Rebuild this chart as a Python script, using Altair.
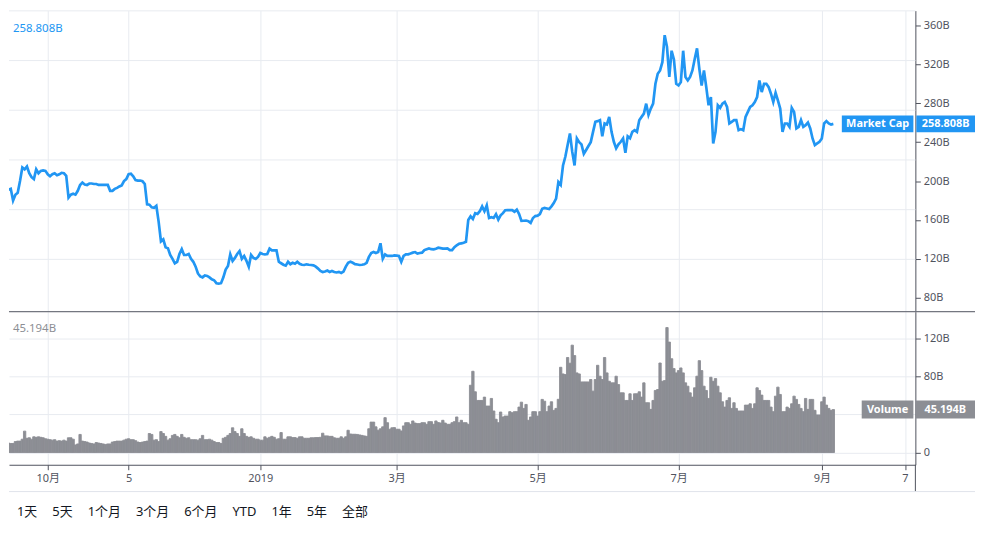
import altair as alt
import pandas as pd

# Day 0 = 2018-09-11, one value per day (billions USD)
market_cap_b = [
    181, 189, 190, 191, 192, 180, 186, 188, 200, 214,
    212, 215, 208, 204, 202, 212, 208, 210.5, 211, 210.5,
    207, 205, 207, 208, 206, 207, 208.5, 208, 205.5, 183,
    186, 187, 186, 190, 196, 198.5, 196.5, 196, 197.5, 197.5,
    197, 197, 196, 196, 196, 196, 196, 190, 190, 192,
    193, 194.5, 195.5, 200, 202, 207, 207.5, 205, 201, 200.5,
    200.5, 199.8, 197, 176, 175.7, 173, 172.5, 174.5, 158, 138,
    140, 132, 131, 124, 120, 115.5, 117, 125, 130, 124,
    124, 125, 120, 117, 112, 105, 102, 101, 103, 102.5,
    101, 99, 98, 95, 94.5, 95, 101, 109, 112.7, 124.7,
    117.8, 121, 125, 128, 120, 123, 118, 112, 124, 121,
    120, 122, 126, 125, 124.5, 125, 130.5, 128.7, 128.7, 128.7,
    117, 115.5, 114, 113, 117, 114.5, 116, 115, 117, 115,
    114, 113.7, 114.4, 114, 113.7, 113.4, 112, 110, 107.6, 106.5,
    107, 108, 106.5, 107.6, 106.5, 106, 106.6, 105.5, 107, 112,
    116, 117, 116, 114.6, 114.2, 113.7, 114, 114.4, 116, 122,
    126, 127, 126, 127, 136, 120, 124.5, 123, 123, 123,
    123.6, 123.3, 123, 117, 123, 124.7, 124.7, 125.5, 126.4, 127,
    125.5, 126, 126.4, 129, 130, 130.8, 130, 129.8, 130.5, 131.5,
    131, 130.5, 130.6, 130.8, 129, 129, 132, 134, 135.5, 136,
    136.5, 137.5, 160, 163.8, 161, 167, 166.2, 169, 174, 169,
    175, 162, 162.8, 162.1, 166, 160.4, 164.8, 167, 170, 170.2,
    170.2, 170.2, 168.5, 170.6, 166, 159, 159.2, 159.4, 158.8, 157,
    162, 164, 164.4, 166, 171.5, 172.3, 171.8, 171.2, 174, 177.4,
    182, 199, 196, 216, 225, 237, 249, 230, 216, 243.8,
    240, 237.7, 228, 232, 236, 240, 250.6, 260.9, 261.6, 262.6,
    246, 259.2, 258.2, 266, 250.6, 240.4, 233.6, 237.7, 240.4, 243.8,
    229, 246, 244, 250.6, 252.3, 250.6, 262.6, 266, 269.4, 279.6,
    268, 274.5, 279.6, 300, 310.3, 313.7, 322.2, 350, 338, 307,
    334, 325, 300, 298.3, 301.7, 334, 307, 303.5, 307, 313.7,
    325.6, 336.4, 315.4, 298.3, 313.7, 296.6, 278, 286.4, 238.7, 250.6,
    278, 275.2, 279.6, 281.3, 276.2, 259.2, 260.9, 262.6, 262.6, 252.3,
    253.4, 252.3, 266, 271.1, 276.2, 278, 281.3, 286.4, 303.5, 291.5,
    300, 300, 296.6, 289.8, 281.3, 290.8, 283, 274.5, 250.6, 259.2,
    259.2, 255.8, 275.2, 271.1, 254.1, 255.8, 262.6, 255.8, 257.5, 260.2,
    254.1, 243.8, 237, 238.7, 240.4, 243.8, 259.2, 261.6, 259.2, 258.2, 258.808,
]

volume_b = [
    13, 13, 12, 10, 9.5, 9.5, 11.5, 12, 12, 14,
    22.5, 15, 15.5, 14, 16.5, 16, 16.5, 16, 15.5, 14.5,
    14, 13.5, 13, 13.5, 12, 12.5, 12, 13, 12, 15.5,
    15.5, 14, 8, 9, 19, 12, 11.5, 11, 10, 9.5,
    9, 10.5, 10, 9.5, 9, 8.5, 9, 9, 11, 11.5,
    12, 12, 12, 13, 14, 14.5, 13.5, 13.5, 12.5, 11,
    10.5, 11, 11.5, 12, 20, 19, 13, 13.5, 11.5, 22,
    20, 17, 13, 14.5, 18, 19, 17, 15.5, 19, 16,
    15, 15.5, 13.5, 13.5, 13.5, 13, 14.5, 18, 13.5, 13.5,
    14, 13, 11.5, 10.5, 10.5, 9.5, 15, 16, 18, 20,
    26, 22, 20, 17, 25, 20, 17, 16, 16.5, 15,
    14, 14, 13, 13, 16.5, 15, 16, 17, 16, 14,
    14.5, 21, 14, 14, 16.5, 16.5, 15.7, 15.7, 15, 16.5,
    16.5, 15, 15, 15, 15.5, 15.5, 15.7, 15.7, 16, 20.3,
    17.5, 17.5, 17, 17, 15.5, 15, 15, 16.5, 15, 16.5,
    23.4, 19.5, 19.2, 19.2, 19, 18.5, 18, 17.5, 17, 25,
    32, 32, 27, 23.5, 25, 27, 36.7, 31.4, 24.5, 26,
    26.2, 24.5, 24.5, 22.7, 28, 31.4, 31.4, 29.7, 33.2, 31,
    30.4, 30.4, 31.4, 31.4, 29.7, 32.5, 32.5, 29.7, 33.2, 31.5,
    31.1, 33.9, 31, 29.7, 29.7, 31.4, 32.5, 37.4, 31.4, 33.9,
    31.4, 31.4, 29.7, 70.8, 85.5, 63.9, 54.8, 54.8, 54.8, 58.3,
    48.9, 48.9, 56.9, 43.7, 35, 31.4, 42.6, 37.4, 38.4, 38.4,
    43, 41.9, 43, 43, 47.8, 53, 46.4, 50.6, 33.9, 37.4,
    43, 43, 38.4, 43, 55.9, 54, 43, 48.9, 53.4, 44.3,
    46.4, 56, 89.7, 82.7, 82, 100, 94, 113, 102, 83.8,
    82.7, 74.3, 74.3, 74.3, 74.3, 76.8, 64.6, 76.8, 91.8, 80.3,
    76.8, 100, 83.8, 75, 73.3, 73.3, 80.3, 71.5, 62.8, 62.8,
    54.8, 54.8, 61.8, 54.8, 61.8, 61.8, 63.9, 58.3, 73.3, 52.4,
    52.4, 45.4, 54.8, 65.3, 66.3, 94.2, 75, 75.7, 131.5, 116.2,
    98.7, 88.3, 83.8, 86.2, 89, 83.8, 73.3, 69.8, 62.8, 58.3,
    68.1, 80.3, 96.7, 86.2, 69.8, 65.3, 56.9, 79.2, 75, 77.8,
    69.8, 62.8, 53.4, 47.8, 54.8, 57.6, 46.4, 52.4, 46.4, 43.7,
    43.7, 43.7, 49.9, 49.9, 51.3, 46.4, 51.3, 68.1, 65.3, 60.4,
    54.8, 54.8, 54.8, 47.8, 43, 59.3, 68.8, 61.1, 43, 43,
    47.8, 46.4, 51.3, 59.3, 55.9, 50.6, 46.4, 43, 56.9, 45.4,
    55.9, 55.9, 44.4, 39.5, 39.5, 53.4, 58.3, 49.9, 46.4, 44.4, 45.194,
]

tick_days = [20, 55, 112, 171, 232, 293, 355, 391]
tick_labels = ["10月", "5", "2019", "3月", "5月", "7月", "9月", "7"]
price_ticks = [80, 120, 160, 200, 240, 280, 320, 360]
price_grid = [119.5, 170.6, 221.7, 272.8, 323.9, 375.0]
volume_ticks = [0, 40, 80, 120]
range_buttons = ["1天", "5天", "1个月", "3个月", "6个月", "YTD", "1年", "5年", "全部"]
cap_name = "Market Cap"
cap_label = "258.808B"
vol_name = "Volume"
vol_label = "45.194B"

n = min(len(market_cap_b), len(volume_b))
df = pd.DataFrame({"day": list(range(n)), "cap": market_cap_b[:n], "vol": volume_b[:n]})
last = pd.DataFrame({
    "cap": [market_cap_b[n - 1]], "vol": [volume_b[n - 1]],
    "cname": [cap_name], "clab": [cap_label], "vname": [vol_name], "vlab": [vol_label],
    "tool": ["\u2003\u2006".join(range_buttons)],
})
grid_df = pd.DataFrame({"g": price_grid})

BLUE = "#2196f3"
GRAY = "#8c8e94"
GRID = "#e8ebf0"
DARK = "#50535e"
TXT = "#50535e"
FONT = "'Noto Sans', 'Noto Sans CJK SC', sans-serif"

W, H1, H2 = 912, 302, 154
xscale = alt.Scale(domain=[3.23, 395.5], nice=False, zero=False)
ytop = alt.Scale(domain=[66.7, 375.3], nice=False, zero=False)
ybot = alt.Scale(domain=[-12.9, 148.2], nice=False, zero=False)

label_expr_x = ("[" + ",".join("'%s'" % s for s in tick_labels) + "][indexof(["
                + ",".join(str(d) for d in tick_days) + "], datum.value)]")

x_top_axis = alt.Axis(values=tick_days, grid=True, gridColor=GRID, labels=False,
                      ticks=False, domain=False, title=None)
y_top_axis = alt.Axis(orient="right", values=price_ticks, labelExpr="datum.value + 'B'",
                      grid=False, title=None, tickSize=5, tickColor=DARK, domainColor=DARK,
                      labelColor=TXT, labelFontSize=11, labelPadding=3, labelFont=FONT)
x_bot_axis = alt.Axis(values=tick_days, labelExpr=label_expr_x, grid=True, gridColor=GRID,
                      tickSize=5, tickColor=DARK, domainColor=DARK, labelColor=TXT,
                      labelFontSize=11, labelFont=FONT, labelPadding=3, title=None,
                      labelFlush=False)
y_bot_axis = alt.Axis(orient="right", values=volume_ticks,
                      labelExpr="datum.value == 0 ? '0' : datum.value + 'B'",
                      grid=True, gridColor=GRID, title=None, tickSize=5, tickColor=DARK,
                      domainColor=DARK, labelColor=TXT, labelFontSize=11, labelPadding=3,
                      labelFont=FONT)

# ---- top pane: market cap ----
grid_rules = alt.Chart(grid_df).mark_rule(color=GRID, strokeWidth=1).encode(
    y=alt.Y("g:Q", scale=ytop, axis=y_top_axis))
line = alt.Chart(df).mark_line(color=BLUE, strokeWidth=2.7, clip=True).encode(
    x=alt.X("day:Q", scale=xscale, axis=x_top_axis),
    y=alt.Y("cap:Q", scale=ytop, axis=y_top_axis))
cap_text = alt.Chart(last).mark_text(align="left", baseline="middle", color=BLUE,
                                     fontSize=11.5, font=FONT).encode(
    x=alt.value(4), y=alt.value(19), text="clab:N")
cap_box = alt.Chart(last).mark_rect(color=BLUE, height=17).encode(
    x=alt.value(838), x2=alt.value(910), y=alt.Y("cap:Q", scale=ytop, axis=y_top_axis))
cap_vbox = alt.Chart(last).mark_rect(color=BLUE, height=17).encode(
    x=alt.value(913), x2=alt.value(972), y=alt.Y("cap:Q", scale=ytop, axis=y_top_axis))
cap_name_t = alt.Chart(last).mark_text(color="white", fontSize=11, fontWeight="bold",
                                       font=FONT, align="center", baseline="middle").encode(
    x=alt.value(874), y=alt.Y("cap:Q", scale=ytop, axis=y_top_axis), text="cname:N")
cap_val_t = alt.Chart(last).mark_text(color="white", fontSize=11, fontWeight="bold",
                                      font=FONT, align="center", baseline="middle").encode(
    x=alt.value(942.5), y=alt.Y("cap:Q", scale=ytop, axis=y_top_axis), text="clab:N")

top = alt.layer(grid_rules, line, cap_text, cap_box, cap_vbox, cap_name_t, cap_val_t).properties(
    width=W, height=H1)

# ---- bottom pane: volume ----
bars = alt.Chart(df).transform_calculate(
    x0="datum.day - 0.5", x1="datum.day + 0.5"
).mark_rect(color=GRAY, clip=True, stroke=GRAY, strokeWidth=0.9).encode(
    x=alt.X("x0:Q", scale=xscale, axis=x_bot_axis), x2="x1:Q",
    y=alt.Y("vol:Q", scale=ybot, axis=y_bot_axis), y2=alt.datum(0))
vol_text = alt.Chart(last).mark_text(align="left", baseline="middle", color=GRAY,
                                     fontSize=11.5, font=FONT).encode(
    x=alt.value(4), y=alt.value(17), text="vlab:N")
vol_box = alt.Chart(last).mark_rect(color=GRAY, height=18).encode(
    x=alt.value(858), x2=alt.value(910), y=alt.Y("vol:Q", scale=ybot, axis=y_bot_axis))
vol_vbox = alt.Chart(last).mark_rect(color=GRAY, height=18).encode(
    x=alt.value(912), x2=alt.value(972), y=alt.Y("vol:Q", scale=ybot, axis=y_bot_axis))
vol_name_t = alt.Chart(last).mark_text(color="white", fontSize=11, fontWeight="bold",
                                       font=FONT, align="center", baseline="middle").encode(
    x=alt.value(884), y=alt.Y("vol:Q", scale=ybot, axis=y_bot_axis), text="vname:N")
vol_val_t = alt.Chart(last).mark_text(color="white", fontSize=11, fontWeight="bold",
                                      font=FONT, align="center", baseline="middle").encode(
    x=alt.value(942), y=alt.Y("vol:Q", scale=ybot, axis=y_bot_axis), text="vlab:N")
sep = alt.Chart(last).mark_rule(color=DARK, strokeWidth=1).encode(
    x=alt.value(0), x2=alt.value(972), y=alt.value(0))
axis_ext = alt.Chart(last).mark_rule(color=DARK, strokeWidth=1).encode(
    x=alt.value(912), y=alt.value(H2), y2=alt.value(181))
tool_line = alt.Chart(last).mark_rule(color="#e0e3eb", strokeWidth=1).encode(
    x=alt.value(0), x2=alt.value(972), y=alt.value(181))
tool_text = alt.Chart(last).mark_text(align="left", baseline="middle", color="#131722",
                                      fontSize=13, font=FONT).encode(
    x=alt.value(8), y=alt.value(202), text="tool:N")

bottom = alt.layer(bars, vol_text, vol_box, vol_vbox, vol_name_t, vol_val_t, sep,
                   axis_ext, tool_line, tool_text).properties(width=W, height=H2)

chart = alt.vconcat(top, bottom, spacing=0).properties(
    padding=0, background="white"
).configure_view(stroke=None)

chart.save("out.html", embed_options={"renderer": "svg", "actions": False})
